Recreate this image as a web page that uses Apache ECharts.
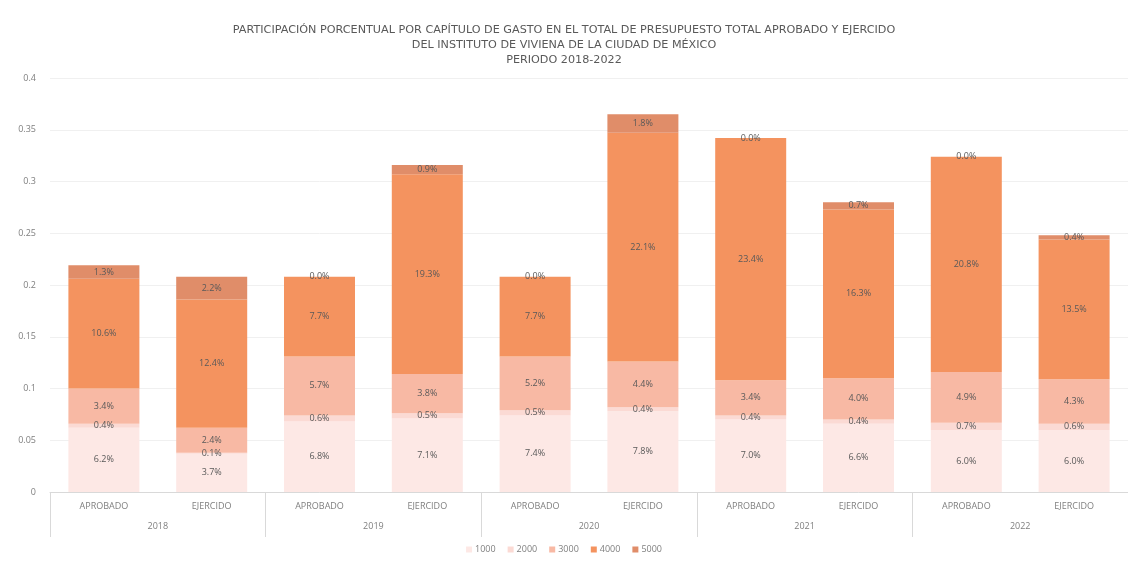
<!DOCTYPE html>
<html>
<head>
<meta charset="utf-8">
<script src="https://cdn.jsdelivr.net/npm/echarts@6/dist/echarts.min.js"></script>
<style>
  html, body { margin: 0; padding: 0; background: #ffffff; }
  #chart { width: 1128px; height: 563px; }
</style>
</head>
<body>
<div id="chart"></div>
<script>
// Sub-categories (one bar each) and the years that group them
const subCategories = ['APROBADO', 'EJERCIDO', 'APROBADO', 'EJERCIDO', 'APROBADO', 'EJERCIDO', 'APROBADO', 'EJERCIDO', 'APROBADO', 'EJERCIDO'];
const years = ['2018', '2019', '2020', '2021', '2022'];

// Share of the total budget by chapter of expenditure (fractions)
const cap1000 = [0.062, 0.037, 0.068, 0.071, 0.074, 0.078, 0.070, 0.066, 0.060, 0.060];
const cap2000 = [0.004, 0.001, 0.006, 0.005, 0.005, 0.004, 0.004, 0.004, 0.007, 0.006];
const cap3000 = [0.034, 0.024, 0.057, 0.038, 0.052, 0.044, 0.034, 0.040, 0.049, 0.043];
const cap4000 = [0.106, 0.124, 0.077, 0.193, 0.077, 0.221, 0.234, 0.163, 0.208, 0.135];
const cap5000 = [0.013, 0.022, 0.000, 0.009, 0.000, 0.018, 0.000, 0.007, 0.000, 0.004];

const yTicks = [0, 0.05, 0.1, 0.15, 0.2, 0.25, 0.3, 0.35, 0.4];

const FONT = "'Open Sans', 'Noto Sans', sans-serif";
const TITLE_FONT = "'DejaVu Sans', 'Open Sans', sans-serif";
const TEXT_GRAY = '#7f7f7f';

const seriesDefs = [
  { name: '1000', data: cap1000, color: '#fde8e5' },
  { name: '2000', data: cap2000, color: '#fbdad4' },
  { name: '3000', data: cap3000, color: '#f8b9a4' },
  { name: '4000', data: cap4000, color: '#f4935f' },
  { name: '5000', data: cap5000, color: '#e08d69' }
];

const chart = echarts.init(document.getElementById('chart'), null, { renderer: 'canvas' });

chart.setOption({
  animation: false,
  backgroundColor: '#ffffff',
  textStyle: { fontFamily: FONT },
  title: {
    text: 'PARTICIPACIÓN PORCENTUAL POR CAPÍTULO DE GASTO EN EL TOTAL DE PRESUPUESTO TOTAL APROBADO Y EJERCIDO\nDEL INSTITUTO DE VIVIENA DE LA CIUDAD DE MÉXICO\nPERIODO 2018-2022',
    left: 'center',
    top: 18,
    textStyle: {
      fontFamily: TITLE_FONT,
      fontSize: 11.2,
      fontWeight: 'normal',
      color: '#595959',
      lineHeight: 15,
      align: 'center'
    }
  },
  legend: {
    bottom: 4,
    left: 'center',
    itemWidth: 6,
    itemHeight: 6,
    itemGap: 12,
    icon: 'rect',
    textStyle: { fontSize: 9, color: TEXT_GRAY, fontFamily: FONT, padding: [0, 0, 0, -2] },
    data: seriesDefs.map(s => s.name)
  },
  grid: {
    left: 50,
    top: 78,
    width: 1080,
    height: 414,
    containLabel: false
  },
  xAxis: [
    {
      type: 'category',
      data: subCategories,
      position: 'bottom',
      boundaryGap: true,
      axisLine: { show: true, lineStyle: { color: '#d9d9d9', width: 1 } },
      axisTick: { show: false },
      axisLabel: { color: TEXT_GRAY, fontSize: 9, margin: 10, fontFamily: FONT }
    },
    {
      type: 'category',
      data: years,
      position: 'bottom',
      boundaryGap: true,
      axisLine: { show: false },
      axisTick: { show: true, length: 45, lineStyle: { color: '#d9d9d9' } },
      axisLabel: { color: TEXT_GRAY, fontSize: 9, margin: 30, fontFamily: FONT }
    }
  ],
  yAxis: {
    type: 'value',
    min: 0,
    max: 0.4,
    interval: 0.05,
    axisLine: { show: false },
    axisTick: { show: false },
    splitLine: { show: true, lineStyle: { color: '#f0f0f0', width: 1 } },
    axisLabel: {
      color: TEXT_GRAY,
      fontSize: 9,
      margin: 14,
      fontFamily: FONT,
      formatter: v => {
        const t = yTicks.find(x => Math.abs(x - v) < 1e-9);
        return t === undefined ? '' : String(t);
      }
    }
  },
  series: seriesDefs.map(s => ({
    name: s.name,
    type: 'bar',
    stack: 'total',
    xAxisIndex: 0,
    barWidth: 71,
    data: s.data,
    itemStyle: { color: s.color },
    label: {
      show: true,
      position: 'inside',
      fontSize: 9,
      color: '#595959',
      fontFamily: FONT,
      formatter: p => (p.value * 100).toFixed(1) + '%'
    }
  }))
});
</script>
</body>
</html>
